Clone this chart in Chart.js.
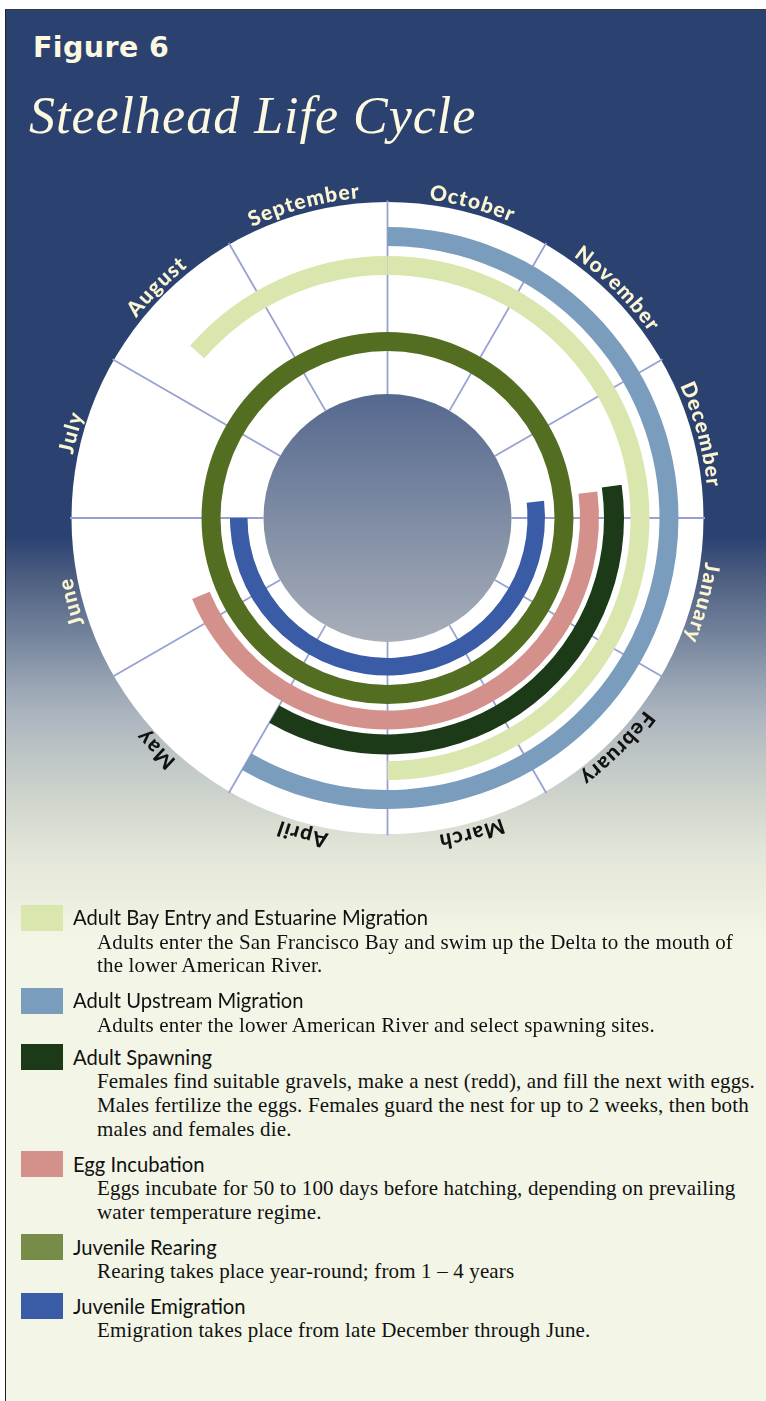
<!DOCTYPE html>
<html>
<head>
<meta charset="utf-8">
<script src="https://cdn.jsdelivr.net/npm/chart.js@4"></script>
<style>
  html, body { margin:0; padding:0; width:766px; height:1401px; overflow:hidden; background:#ffffff; }
  #panel { position:absolute; left:5px; top:9px; width:761px; height:1392px;
    border-left:1.5px solid #222; border-top:1px solid #3a3a3a; box-sizing:border-box;
    background: linear-gradient(180deg, #2b4271 0px, #2b4271 527px, #506082 571px, #78879f 631px,
      #96a2b2 671px, #afb8c0 711px, #c8cec9 771px, #e1e5d7 838px, #eceedf 891px, #f3f6e7 930px, #f3f6e7 100%); }
  #fig { position:absolute; left:33px; top:32px; font:bold 28.5px "DejaVu Sans", sans-serif; color:#fdf8e0; letter-spacing:0.4px; line-height:32px; }
  #ttl { position:absolute; left:29px; top:86px; font:italic 52px "Liberation Serif", serif; color:#fdf8e0; white-space:nowrap; letter-spacing:1px; }
  #wrap { position:absolute; left:0; top:0; width:766px; height:1036px; }
  .sw { position:absolute; left:21px; width:42px; height:26px; }
  .lt { position:absolute; left:73px; font:20.2px Lato, sans-serif; color:#111; white-space:nowrap; line-height:20.2px; }
  .ld { position:absolute; left:97px; font:21px "Liberation Serif", serif; color:#111; line-height:23.8px; white-space:nowrap; letter-spacing:0.15px; }
</style>
</head>
<body>
<div id="panel"></div>
<div id="fig">Figure 6</div>
<div id="ttl">Steelhead Life Cycle</div>
<div id="wrap"><canvas id="c"></canvas></div>
<div id="legend"></div>
<script>
// ---- data ----
const months = ['October','November','December','January','February','March','April','May','June','July','August','September'];
const monthLabelDark = ['February','March','April','May'];
// ring order, outermost first; values are months counted from October 1
const ringNames = ['Adult Upstream Migration','Adult Bay Entry and Estuarine Migration','Adult Spawning','Egg Incubation','Juvenile Rearing','Juvenile Emigration'];
const ringStart = [0, 10.37, 2.73, 2.76, 0, 2.79];
const ringEnd   = [7, 6,     7,    8.25, 12, 9];
const ringColors = ['#7a9dbd','#d9e6ae','#1c3a17','#d4918c','#536e21','#3a5ba5'];
// legend
const legendNames = ['Adult Bay Entry and Estuarine Migration','Adult Upstream Migration','Adult Spawning','Egg Incubation','Juvenile Rearing','Juvenile Emigration'];
const legendColors = ['#d9e6ae','#7a9dbd','#1c3a17','#d4918c','#788c4a','#3a5ba5'];
const legendText = [
  ['Adults enter the San Francisco Bay and swim up the Delta to the mouth of','the lower American River.'],
  ['Adults enter the lower American River and select spawning sites.'],
  ['Females find suitable gravels, make a nest (redd), and fill the next with eggs.','Males fertilize the eggs. Females guard the nest for up to 2 weeks, then both','males and females die.'],
  ['Eggs incubate for 50 to 100 days before hatching, depending on prevailing','water temperature regime.'],
  ['Rearing takes place year-round; from 1 \u2013 4 years'],
  ['Emigration takes place from late December through June.']
];

// ---- layout / style (not data) ----
const ringWeights = [19, 19, 20, 19, 19, 17.5];
const gapWeights = [10, 6.5, 5, 6.5, 9.5];
const legendTops = [904.5, 987.5, 1044, 1151, 1234, 1293];

// ---- legend ----
const lg = document.getElementById('legend');
legendNames.forEach((n, i) => {
  const top = legendTops[i];
  const titleBase = top + 20.5, descBase = titleBase + 24.6;
  const s = document.createElement('div'); s.className = 'sw';
  s.style.top = top + 'px'; s.style.background = legendColors[i]; lg.appendChild(s);
  const t = document.createElement('div'); t.className = 'lt'; t.textContent = n;
  t.style.top = (titleBase - 0.887 * 20.2) + 'px'; lg.appendChild(t);
  const d = document.createElement('div'); d.className = 'ld';
  d.innerHTML = legendText[i].map(x => x.replace(/&/g,'&amp;')).join('<br>');
  d.style.top = (descBase - (11.9 + 0.3375 * 21)) + 'px'; lg.appendChild(d);
});

// ---- datasets ----
const datasets = [];
ringNames.forEach((name, i) => {
  const s = ringStart[i], e = ringEnd[i], c = ringColors[i], t = 'rgba(0,0,0,0)';
  let data, colors;
  if (s <= e) { data = [s, e - s, 12 - e]; colors = [t, c, t]; }
  else { data = [e, s - e, 12 - s]; colors = [c, t, c]; }
  datasets.push({ label: name, data, backgroundColor: colors, borderWidth: 0, weight: ringWeights[i] });
  if (i < gapWeights.length) datasets.push({ label: 'gap' + i, data: [12], backgroundColor: [t], borderWidth: 0, weight: gapWeights[i] });
});

const OUTER = 291, INNER = 140;

const decor = {
  id: 'decor',
  beforeDatasetsDraw(chart) {
    const ctx = chart.ctx;
    const a0 = chart.getDatasetMeta(0).data[0];
    const aN = chart.getDatasetMeta(datasets.length - 1).data[0];
    const cx = a0.x, cy = a0.y;
    const rWhite = a0.outerRadius + 25, rCore = aN.innerRadius - 16;
    ctx.save();
    ctx.fillStyle = '#ffffff';
    ctx.beginPath(); ctx.arc(cx, cy, rWhite, 0, Math.PI * 2); ctx.fill();
    ctx.strokeStyle = '#97a1d3'; ctx.lineWidth = 1.8;
    for (let k = 0; k < months.length; k++) {
      const a = k * 2 * Math.PI / months.length;
      ctx.beginPath();
      ctx.moveTo(cx + rCore * Math.sin(a), cy - rCore * Math.cos(a));
      ctx.lineTo(cx + (rWhite + 1.5) * Math.sin(a), cy - (rWhite + 1.5) * Math.cos(a));
      ctx.stroke();
    }
    const g = ctx.createLinearGradient(0, cy - rCore, 0, cy + rCore);
    g.addColorStop(0, '#55688e'); g.addColorStop(1, '#a8afb9');
    ctx.fillStyle = g;
    ctx.beginPath(); ctx.arc(cx, cy, rCore, 0, Math.PI * 2); ctx.fill();
    ctx.restore();
  },
  afterDraw(chart) {
    const ctx = chart.ctx;
    const a0 = chart.getDatasetMeta(0).data[0];
    const cx = a0.x, cy = a0.y;
    const R = a0.outerRadius + 30;
    const spacing = 1.1;
    ctx.save();
    ctx.font = '900 21px Lato, sans-serif';
    ctx.textAlign = 'center'; ctx.textBaseline = 'alphabetic';
    months.forEach((m, i) => {
      ctx.fillStyle = monthLabelDark.includes(m) ? '#111111' : '#fbf5d2';
      const chars = m.split('');
      const widths = chars.map(ch => ctx.measureText(ch).width + spacing);
      const total = widths.reduce((p, q) => p + q, 0) - spacing;
      const mid = (i + 0.5) * 2 * Math.PI / months.length;
      let acc = mid * R - total / 2;
      chars.forEach((ch, j) => {
        const w = widths[j] - spacing;
        const ang = (acc + w / 2) / R;
        ctx.save();
        ctx.translate(cx + R * Math.sin(ang), cy - R * Math.cos(ang));
        ctx.rotate(ang);
        ctx.fillText(ch, 0, 0);
        ctx.restore();
        acc += widths[j];
      });
    });
    ctx.restore();
  }
};

new Chart(document.getElementById('c'), {
  type: 'doughnut',
  data: { labels: ['a', 'b', 'c'], datasets },
  options: {
    responsive: true, maintainAspectRatio: false, animation: false, events: [],
    radius: OUTER, cutout: (INNER / OUTER * 100) + '%', rotation: 0, circumference: 360,
    layout: { padding: { left: 9 } },
    plugins: { legend: { display: false }, tooltip: { enabled: false } }
  },
  plugins: [decor]
});
</script>
</body>
</html>
